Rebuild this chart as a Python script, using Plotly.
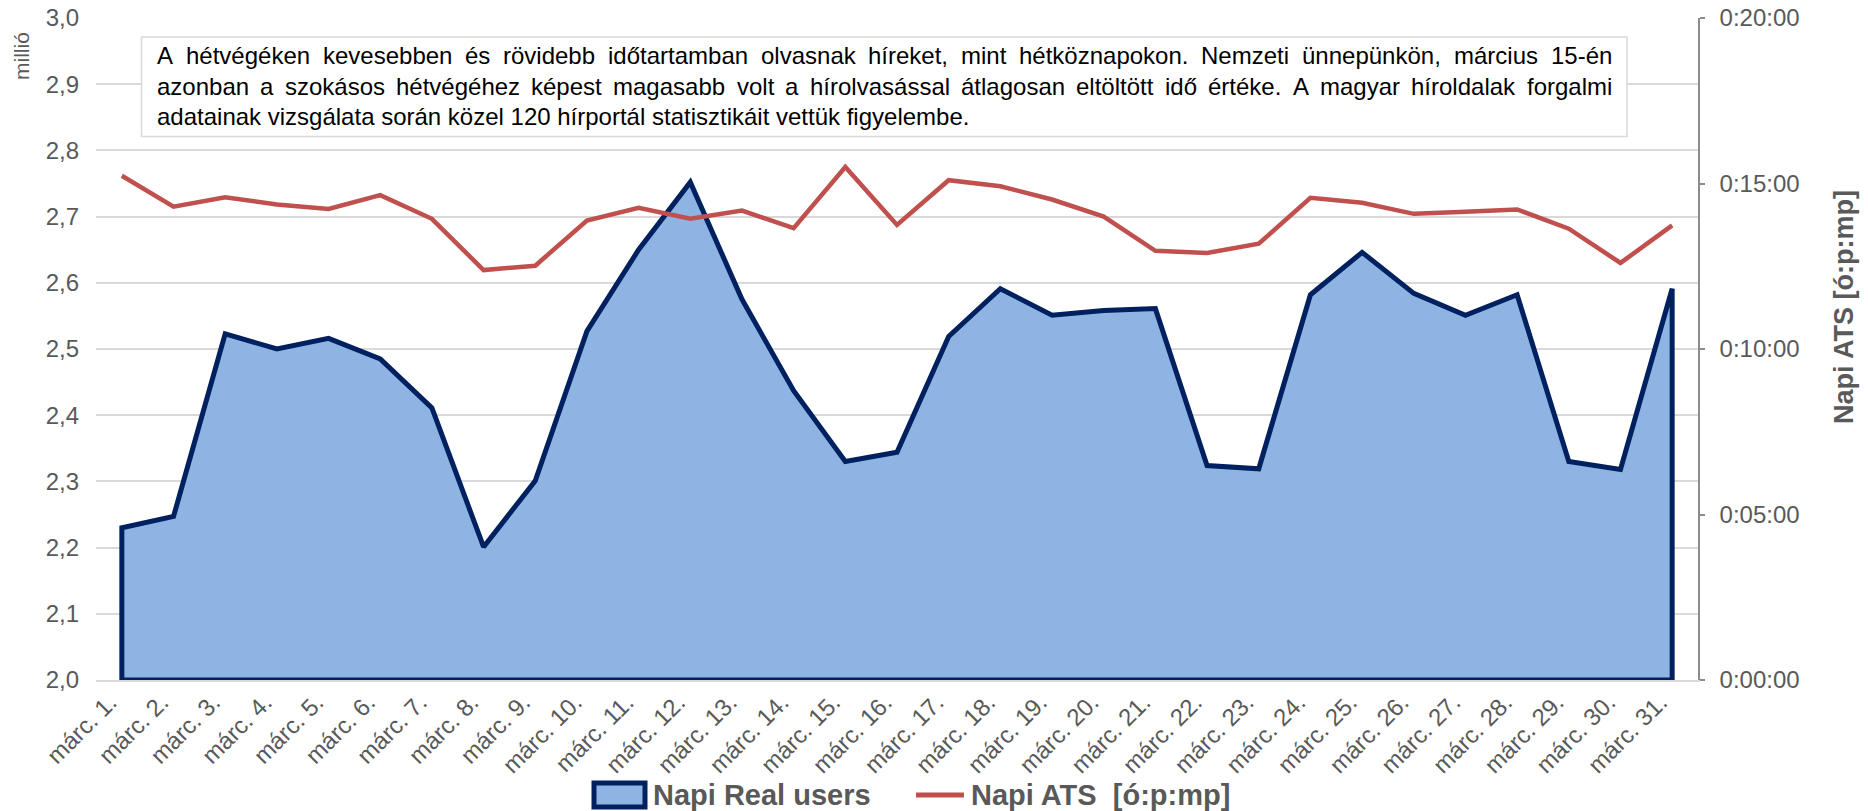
import plotly.graph_objects as go

# ---------------- data ----------------
days = ["márc. 1.", "márc. 2.", "márc. 3.", "márc. 4.", "márc. 5.", "márc. 6.", "márc. 7.",
        "márc. 8.", "márc. 9.", "márc. 10.", "márc. 11.", "márc. 12.", "márc. 13.", "márc. 14.",
        "márc. 15.", "márc. 16.", "márc. 17.", "márc. 18.", "márc. 19.", "márc. 20.", "márc. 21.",
        "márc. 22.", "márc. 23.", "márc. 24.", "márc. 25.", "márc. 26.", "márc. 27.", "márc. 28.",
        "márc. 29.", "márc. 30.", "márc. 31."]

# Napi Real users (millió)
real_users = [2.230, 2.247, 2.523, 2.500, 2.516, 2.485, 2.411, 2.201, 2.301, 2.527, 2.650,
              2.752, 2.575, 2.437, 2.330, 2.344, 2.519, 2.591, 2.551, 2.558, 2.561, 2.324,
              2.319, 2.582, 2.646, 2.584, 2.551, 2.582, 2.330, 2.318, 2.591]

# Napi ATS [ó:p:mp]
ats = ["0:15:14", "0:14:18", "0:14:35", "0:14:22", "0:14:14", "0:14:39", "0:13:56", "0:12:23",
       "0:12:31", "0:13:53", "0:14:16", "0:13:56", "0:14:11", "0:13:39", "0:15:30", "0:13:45",
       "0:15:06", "0:14:55", "0:14:31", "0:14:00", "0:12:58", "0:12:54", "0:13:11", "0:14:34",
       "0:14:25", "0:14:05", "0:14:09", "0:14:13", "0:13:38", "0:12:36", "0:13:44"]

y_min, y_max, y_step = 2.0, 3.0, 0.1
y2_tick_labels = ["0:00:00", "0:05:00", "0:10:00", "0:15:00", "0:20:00"]

series_names = ["Napi Real users", "Napi ATS \u00a0[ó:p:mp]"]
y2_title = "Napi ATS [ó:p:mp]"
y_unit = "millió"
note_lines = [
    "A hétvégéken kevesebben és rövidebb időtartamban olvasnak híreket, mint hétköznapokon. Nemzeti ünnepünkön, március 15-én",
    "azonban a szokásos hétvégéhez képest magasabb volt a hírolvasással átlagosan eltöltött idő értéke. A magyar híroldalak forgalmi",
    "adatainak vizsgálata során közel 120 hírportál statisztikáit vettük figyelembe.",
]


def to_sec(s):
    h, m, sec = (int(p) for p in s.split(":"))
    return h * 3600 + m * 60 + sec


ats_sec = [to_sec(t) for t in ats]
y2_tick_vals = [to_sec(t) for t in y2_tick_labels]

# ---------------- style / geometry ----------------
W, H = 1868, 811
ML, MR, MT, MB = 96, 170, 18, 131
PW, PH = W - ML - MR, H - MT - MB
FONT = "Liberation Sans, Arial, sans-serif"
GREY_TXT = "#595959"
GRID = "#D9D9D9"
NAVY = "#002060"
FILL = "#8EB4E3"
RED = "#C0504D"


def px_x(px):
    return (px - ML) / PW


def px_y(py):
    return (H - MB - py) / PH


fig = go.Figure()

# area (closed polygon down to the axis minimum, like Excel's bordered area)
fig.add_trace(go.Scatter(
    x=[days[0]] + days + [days[-1], days[0]],
    y=[y_min] + real_users + [y_min, y_min],
    mode="lines", fill="toself", fillcolor=FILL,
    line=dict(color=NAVY, width=5, shape="linear"),
    name=series_names[0], hoverinfo="skip", showlegend=False,
))

fig.add_trace(go.Scatter(
    x=days, y=ats_sec, yaxis="y2", mode="lines",
    line=dict(color=RED, width=4.5),
    name=series_names[1], showlegend=False,
    text=ats, hovertemplate="%{x}: %{text}<extra></extra>",
))

# ---------- annotation box ----------
shapes = [dict(type="rect", xref="paper", yref="paper",
               x0=px_x(141.5), x1=px_x(1627), y0=px_y(136.5), y1=px_y(37),
               line=dict(color=GRID, width=1.5), fillcolor="white", layer="above")]

# Arial / Liberation Sans advance widths (1/1000 em) for justified lines
CW = {' ': 278, 'A': 667, 'N': 722, 'a': 556, 'á': 556, 'b': 556, 'c': 500, 'd': 556,
      'e': 556, 'é': 556, 'f': 278, 'g': 556, 'h': 556, 'i': 222, 'í': 278, 'j': 222,
      'k': 500, 'l': 222, 'm': 833, 'n': 556, 'o': 556, 'ó': 556, 'ö': 556, 'ő': 556,
      'p': 556, 'r': 333, 's': 500, 't': 278, 'u': 556, 'ü': 556, 'v': 500, 'y': 500,
      'z': 500, ',': 278, '.': 278, '-': 333, '0': 556, '1': 556, '2': 556, '5': 556}
NOTE_FS = 24
LINE_X0, LINE_X1 = 156, 1611
line_y = [56, 87, 116.5]

annotations = []
for i, line in enumerate(note_lines):
    if i < len(note_lines) - 1:
        words = line.split(" ")
        widths = [sum(CW.get(c, 556) for c in w) * NOTE_FS / 1000 for w in words]
        gap = (LINE_X1 - LINE_X0 - sum(widths)) / (len(words) - 1)
        xpos = LINE_X0
        for w, wd in zip(words, widths):
            annotations.append(dict(text=w, xref="paper", yref="paper", x=px_x(xpos),
                                    y=px_y(line_y[i]), xanchor="left", yanchor="middle",
                                    showarrow=False, borderpad=0,
                                    font=dict(family=FONT, size=NOTE_FS, color="#000000")))
            xpos += wd + gap
    else:
        annotations.append(dict(text=line, xref="paper", yref="paper", x=px_x(LINE_X0),
                                y=px_y(line_y[i]), xanchor="left", yanchor="middle",
                                showarrow=False, borderpad=0,
                                font=dict(family=FONT, size=NOTE_FS, color="#000000")))

annotations.append(dict(text=y_unit, xref="paper", yref="paper", x=px_x(22), y=px_y(56),
                        textangle=-90, showarrow=False, xanchor="center", yanchor="middle",
                        font=dict(family=FONT, size=21, color=GREY_TXT)))
annotations.append(dict(text=y2_title, xref="paper", yref="paper", x=px_x(1844), y=px_y(307),
                        textangle=-90, showarrow=False, xanchor="center", yanchor="middle",
                        font=dict(family=FONT, size=27, color=GREY_TXT, weight="bold")))

# ---------- legend (drawn like Excel's: box icon + line icon) ----------
LEG_Y = 795
shapes.append(dict(type="rect", xref="paper", yref="paper",
                   x0=px_x(594), x1=px_x(645), y0=px_y(807), y1=px_y(783),
                   line=dict(color=NAVY, width=5), fillcolor=FILL, layer="above"))
shapes.append(dict(type="line", xref="paper", yref="paper",
                   x0=px_x(916), x1=px_x(964), y0=px_y(LEG_Y), y1=px_y(LEG_Y),
                   line=dict(color=RED, width=5), layer="above"))
for name, x_left in zip(series_names, [652, 970]):
    annotations.append(dict(text=name, xref="paper", yref="paper", x=px_x(x_left),
                            y=px_y(LEG_Y), xanchor="left", yanchor="middle", showarrow=False,
                            borderpad=0,
                            font=dict(family=FONT, size=29, color=GREY_TXT, weight="bold")))

n_steps = int(round((y_max - y_min) / y_step))
fig.update_layout(
    width=W, height=H,
    margin=dict(l=ML, r=MR, t=MT, b=MB, pad=0, autoexpand=False),
    paper_bgcolor="white", plot_bgcolor="white",
    separators=", ",
    font=dict(family=FONT, color=GREY_TXT),
    showlegend=False,
    xaxis=dict(type="category", range=[-0.5, len(days) - 0.5], tickangle=-45,
               tickfont=dict(family=FONT, size=24, color=GREY_TXT),
               showgrid=False, showline=True, linecolor=GRID, linewidth=1.5,
               ticks="", zeroline=False, fixedrange=True, ticklabelstandoff=-3,
               ticklabelshift=-12, automargin=False),
    yaxis=dict(range=[y_min, y_max],
               tickvals=[round(y_min + k * y_step, 1) for k in range(n_steps + 1)],
               tickformat=".1f", showgrid=True, gridcolor=GRID, gridwidth=1.5,
               showline=False, zeroline=False, ticks="", ticklabelstandoff=16,
               tickfont=dict(family=FONT, size=24, color=GREY_TXT), fixedrange=True,
               automargin=False),
    yaxis2=dict(range=[0, y2_tick_vals[-1]], overlaying="y", side="right",
                tickvals=y2_tick_vals, ticktext=y2_tick_labels, showgrid=False,
                showline=True, linecolor="#8C8C8C", linewidth=1.5, ticks="outside",
                ticklen=5, tickcolor="#8C8C8C", tickwidth=1.5, zeroline=False,
                ticklabelstandoff=10, automargin=False,
                tickfont=dict(family=FONT, size=24, color=GREY_TXT), fixedrange=True),
    shapes=shapes,
    annotations=annotations,
)

fig.write_html("out.html", config={"displayModeBar": False},
               post_script="document.body.style.margin='0';document.body.style.overflow='hidden';")
